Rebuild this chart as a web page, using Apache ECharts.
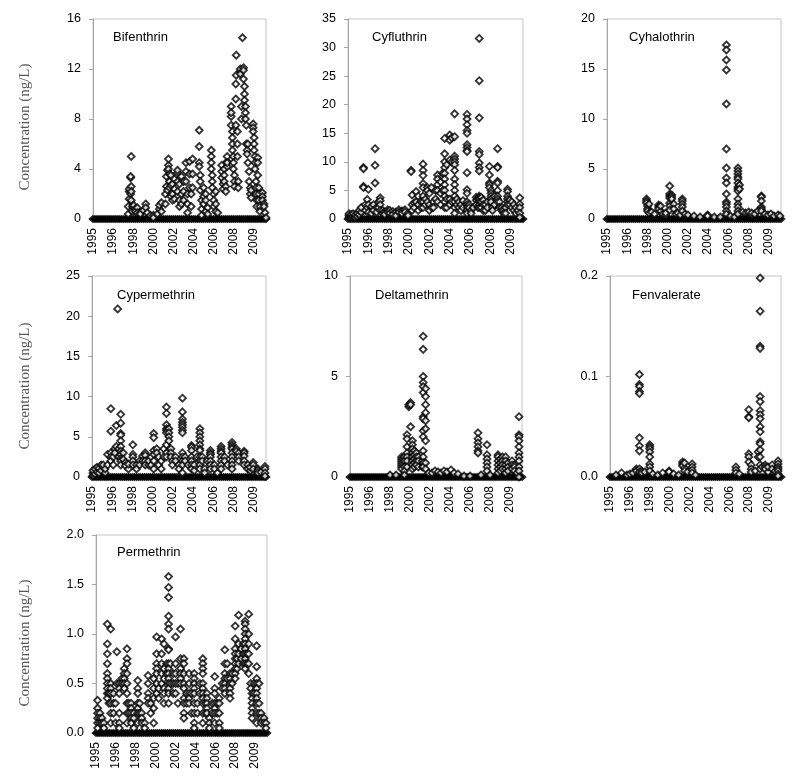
<!DOCTYPE html>
<html><head><meta charset="utf-8">
<script src="https://cdn.jsdelivr.net/npm/echarts@6/dist/echarts.min.js"></script>
<style>html,body{margin:0;padding:0;background:#fff}#c{width:800px;height:776px}</style>
</head><body><div id="c"></div>
<script>
// x positions are in axis-label units: label k of yearLabels sits at x = k
const yearLabels = ['1995','1996','1998','2000','2002','2004','2006','2008','2009'];
const panelNames = ['Bifenthrin','Cyfluthrin','Cyhalothrin','Cypermethrin','Deltamethrin','Fenvalerate','Permethrin'];
const yMax = [16, 35, 20, 25, 10, 0.2, 2.0];
const yStep = [4, 5, 5, 5, 5, 0.1, 0.5];
const yDecimals = [0, 0, 0, 0, 0, 1, 1];

// sample positions with non-detect (0 ng/L) results, shared by all panels
const nondetectX = [0,0.1,0.2,0.3,0.4,0.5,0.6,0.7,0.8,0.9,1,1.1,1.2,1.3,1.4,1.5,1.6,1.7,1.8,1.9,2,2.1,2.2,2.3,2.4,2.5,2.6,2.7,2.8,2.9,3,3.1,3.2,3.3,3.4,3.5,3.6,3.7,3.8,3.9,4,4.1,4.2,4.3,4.4,4.5,4.6,4.7,4.8,4.9,5,5.1,5.2,5.3,5.4,5.5,5.6,5.7,5.8,5.9,6,6.1,6.2,6.3,6.4,6.5,6.6,6.7,6.8,6.9,7,7.1,7.2,7.3,7.4,7.5,7.6,7.7,7.8,7.9,8,8.1,8.2,8.3,8.4,8.5,8.6];

// each entry: [x, value, value, ...] (several samples at nearly the same position)
const bifenthrin = [
[1.75,0.4,1.0],[1.8,1.6,2.2,2.4],[1.87,3.3,3.4,2.0],[1.9,5.0,2.6,2.2,1.5],[1.95,1.0,0.6],[2.02,0.9,1.1],[2.1,0.8,0.6],[2.2,0.9,0.5],[2.35,0.5,0.4],[2.5,0.7],[2.62,1.2,0.9],[2.7,0.5],[2.85,0.3],[3.0,0.3,0.1],[3.2,0.4],[3.3,0.8,1.1],[3.4,1.3,0.6],
[3.6,1.2,2.0],[3.65,2.6,3.4],[3.7,3.9,2.3],[3.75,4.3,4.8,4.0],[3.8,3.6,3.0,2.5],[3.87,1.8,2.7,3.5],[3.95,2.0,1.5,2.8],[4.05,3.2,2.4,1.6],[4.2,3.7,3.9,3.0,2.2],[4.3,1.5,1.0,2.8],[4.4,3.4,2.0,1.2],[4.5,3.0,2.2,1.5],[4.62,3.8,4.5,3.0],[4.7,2.0,0.5,1.2],[4.8,2.5,4.6,3.6],[4.88,2.0,1.0],[4.95,4.8,3.6,2.5],
[5.28,7.1,5.8,4.5,4.2],[5.33,3.5,3.0,2.3],[5.4,1.5,0.8,0.3],[5.5,2.5,1.8,1.2],[5.6,0.6,2.0,1.5],[5.7,0.9,0.4],
[5.88,5.5,5.0,4.5,4.0],[5.93,3.5,3.0,2.5],[6.0,2.0,1.5,1.0],[6.1,2.2,1.2,0.6],[6.2,0.5],
[6.4,4.3,3.8,3.3],[6.47,2.8,2.4],[6.52,4.0,3.5,3.0],[6.6,2.6,2.2],[6.67,4.6,4.2,5.0,4.5],
[6.87,7.5,8.2,9.0,8.5],[6.93,7.0,6.5,6.0,5.5],[6.98,5.0,4.5,4.0],[7.03,3.5,3.0,2.6],
[7.1,7.5,9.6,10.8],[7.12,13.1,11.5],[7.18,7.0,6.0,5.0],[7.22,3.0,2.5],
[7.32,11.8,12.0,11.6],[7.38,9.0,8.0],
[7.43,14.5],[7.48,12.1,11.9,11.2],[7.53,10.6,10.0,9.5],[7.58,9.0,8.5,8.0],[7.62,7.5,6.0],[7.66,5.5,5.2],[7.7,6.0,4.5],[7.76,3.8,3.0],[7.82,2.5,2.0],[7.86,1.7,2.3],
[7.96,7.6,7.3,7.0],[8.01,6.5,6.0,5.5],[8.05,5.0,4.5,4.0],[8.1,3.0,2.5,2.0],[8.14,1.5,1.0],[8.19,4.9,4.5,3.5],[8.24,2.5,2.0,1.5],[8.3,1.0,0.6],[8.42,2.1,1.8,1.5],[8.5,1.2,1.0],[8.55,0.5],[8.6,0.1]
];
const cyfluthrin = [
[0.05,0.3,0.6,0.9],[0.15,0.4,0.8],[0.25,0.5,0.9],[0.35,0.3,0.7],[0.45,0.5,1.0],[0.55,0.8,1.5],[0.65,1.2,2.0],
[0.76,9.0,8.8,5.7,5.5],[0.85,2.5,1.5],[0.95,3.4,2.0],[1.0,5.2,2.5,1.2],[1.15,2.2,1.0],[1.25,2.5,1.5],[1.33,12.3,9.4,6.3],[1.4,2.0,1.2],[1.5,3.0,2.0],[1.58,3.7,3.2,2.5,1.5],[1.7,1.5,1.0],[1.8,1.2,0.8],[1.95,1.6,1.2],[2.05,1.5,1.0],[2.2,1.3,0.8],[2.35,1.2,0.6],[2.5,1.6,1.2],[2.65,1.4,1.0],[2.8,1.6,1.2],[2.95,1.0,0.6],
[3.1,8.5,8.3],[3.15,4.2,2.5,1.5],[3.25,2.8,2.0],[3.35,4.8,3.0],[3.45,4.0,2.5,1.5],[3.58,3.0,2.0],[3.69,9.6,8.5,7.6,6.2,5.5,4.0,3.0,2.0],[3.8,3.5,2.5],[3.9,5.5,5.0,3.0],[4.0,4.5,2.5,1.5],[4.1,5.5,2.0],[4.2,3.0,2.0],[4.3,5.0,3.5],[4.4,7.7,7.0,6.0,5.0,3.0],[4.55,6.5,4.5,2.5],[4.65,8.0,5.0],
[4.75,14.1,11.4,10.0,9.0,8.0,7.0,6.0,5.0,4.0,3.0,2.0],[4.85,9.5,3.5,2.0],[5.0,14.7,13.8,10.3,3.5,2.5],[5.1,14.2,10.0,3.0],[5.24,18.4,14.4,11.0,10.5,10.0,9.5,8.5,7.0,6.0,5.0,4.0,3.0,2.0,1.0],[5.35,3.5,2.5],[5.45,3.0,2.0],[5.55,2.5,1.5],[5.65,3.2,2.0],
[5.85,18.3,17.5,16.5,15.5,15.0,13.0,12.5,12.0,11.8,8.1,5.1,4.5,3.0,2.5,2.0,1.5,1.0],[5.95,2.5,2.0],[6.05,1.5,1.0],[6.15,2.0],[6.3,3.8,3.3,2.5],[6.38,3.5,2.0],
[6.45,31.6,24.2,17.7,11.8,11.3,9.8,9.0,8.4,4.0,3.7,3.5,3.0,2.5,2.0],[6.55,3.8,3.0,2.0],[6.65,3.3,2.5,1.5],[6.75,2.5,1.5],[6.85,3.0,2.0],
[6.95,9.2,7.7,6.3,6.0,5.5],[7.03,5.0,4.5,4.0,3.5,3.0],[7.1,2.0,1.5],[7.2,4.0,2.5],[7.35,12.3,9.2,9.0,6.6,6.3,5.0,4.0,3.5,3.0],[7.45,3.0,2.0],[7.55,2.0,1.5],[7.65,1.5,1.0],[7.75,2.0,1.0],
[7.84,5.2,4.8,4.0,3.5,3.0,2.5],[7.95,3.3,2.5],[8.05,3.0,2.0],[8.15,2.5,1.5],[8.25,2.0,1.0],[8.35,1.5],[8.44,3.7,2.6,2.0,1.0,0.3]
];
const cyhalothrin = [
[1.95,2.0,1.8,1.6],[2.0,1.3,1.0,0.8],[2.08,0.6,1.5],[2.2,0.7],[2.35,0.5],[2.55,1.4,1.2,1.0],[2.65,0.8,1.3],[2.75,0.5],[2.9,0.4,0.6],
[3.1,3.3,2.5,2.3,2.1,1.6,1.3,0.9],[3.2,2.4,2.2,2.0],[3.3,1.5,1.0],[3.4,0.5],[3.5,0.6],[3.62,0.4],[3.72,2.0,1.8,1.5,1.2,0.8],[3.85,0.5],[4.0,0.4],[4.3,0.3],[4.6,0.2],[4.97,0.4,0.3],[5.3,0.2],[5.6,0.2],
[5.9,17.4,16.9,15.9,14.9,11.5,7.0,5.1,4.1,3.6,2.5,1.7,1.5,1.2,0.8,0.5],[6.1,0.3],[6.3,0.2],
[6.47,5.1,4.8,4.5,4.2,4.0,3.6,3.2,3.0,2.8,2.0,1.5,1.2,0.8,0.5],[6.55,3.4,3.0],[6.7,0.7],[6.85,0.6],[7.0,0.5,0.7],[7.15,0.4,0.6],[7.3,0.5],[7.45,0.8],
[7.63,2.3,2.2,1.8,1.2,1.0,0.8],[7.8,0.5],[7.95,0.4],[8.1,0.5],[8.25,0.3],[8.45,0.4],[8.55,0.3]
];
const cypermethrin = [
[0.05,0.2,0.5,0.8],[0.15,0.4,1.0],[0.25,0.6,1.2],[0.35,0.5,1.1],[0.45,0.8,1.5],[0.55,1.2,1.5],[0.65,0.5,1.0],
[0.77,2.8,1.5],[0.93,8.5,5.7,3.0,2.5,2.0],[1.05,2.5,1.5],[1.13,3.5,3.0],[1.2,6.4,3.8],[1.27,20.9],[1.32,3.5,2.5],[1.42,7.8,6.7,5.4,5.2,4.5,3.8,3.2,2.8,2.3,2.0,1.5],[1.55,3.0,2.2],[1.65,1.8,1.4],[1.8,1.0,1.6],
[2.02,4.0,2.8,2.5,2.0,1.5],[2.2,1.5,1.0],[2.35,2.0,1.5],[2.5,2.6,2.0],[2.63,3.0,2.7,2.0,1.5],[2.8,1.5,2.0],[2.92,2.5,1.5],
[3.05,5.4,4.9,3.3,2.8,2.0,1.0],[3.2,3.5,3.0],[3.3,2.5,1.5],[3.42,1.0,2.0],[3.55,3.5,2.5],[3.68,8.7,7.9,6.5,6.0,5.8,5.5,4.0,3.0,2.5],[3.8,6.0,5.5,5.0,4.5],[3.9,3.5,3.0,2.5],[3.97,2.0,1.5],[4.13,2.5,2.0],[4.3,1.5,1.0],
[4.47,9.8,8.1,7.2,6.8,6.5,6.2,5.8,5.5,3.0,2.5,2.0,1.5,0.5],[4.6,2.5,2.0],[4.75,1.5],[4.92,3.9,3.7,3.3,2.5,2.0,1.5,1.0],[5.05,1.5,0.8],[5.18,2.5],
[5.33,6.0,5.5,5.0,4.5,4.0,3.5,3.3,2.5,2.0,1.5,1.0],[5.45,2.5,2.0],[5.57,1.0,0.5],[5.7,2.0],
[5.85,3.3,3.0,2.8,2.5,2.0,1.5,1.0],[6.05,1.5,1.0],[6.2,0.5],
[6.38,3.8,3.5,3.2,3.0,2.5,2.0,1.5,1.0],[6.55,2.5,2.0],[6.7,1.5],
[6.92,4.3,4.0,3.7,3.5,3.0,2.5,2.0,1.5,1.0],[7.13,3.5,3.2],[7.25,3.0,2.5,2.0],
[7.52,3.2,3.0,2.6,2.0,1.5],[7.7,1.5,1.0],[7.82,0.8,1.2],[7.97,1.8,1.5,1.0],[8.2,1.0,0.8,0.5],[8.35,0.6],[8.55,1.3,1.0,0.5,0.1]
];
const deltamethrin = [
[2.0,0.1],[2.3,0.1],
[2.58,1.0,0.9,0.8,0.7,0.6,0.5,0.4],[2.72,1.0,0.8,0.5,0.3,0.1],
[2.85,2.1,1.9,1.5,1.2,1.0,0.8,0.5],[2.94,3.5,3.6],[3.03,3.7,3.6,2.5],
[3.12,1.8,1.6,1.4,1.2,1.0,0.8,0.6,0.4],[3.22,1.3,1.1,0.9,0.7,0.5],[3.32,1.2,1.0,0.8,0.6],[3.42,1.0,0.8,0.5],
[3.62,0.8,0.5],[3.66,7.0,6.35,5.0,4.7,4.5,4.2,3.0,2.9,2.3,2.0,1.3,1.0,0.7,0.5],[3.78,4.4,4.0,3.6,3.2,2.8,2.4,1.8,0.7,0.4],[3.93,0.2],
[4.1,0.2],[4.25,0.3],[4.4,0.25],[4.55,0.2],[4.7,0.3],[4.85,0.25],[5.05,0.35],[5.2,0.2],[5.4,0.15],[5.7,0.05],[6.0,0.05],
[6.4,2.2,1.9,1.7,1.5,1.3,1.2],[6.55,0.1],
[6.85,1.6,1.1,0.9,0.7,0.5,0.3],[7.0,0.1],
[7.4,1.1,1.0,0.8,0.6,0.4,0.2],[7.52,0.9,0.7,0.5,0.3],[7.62,1.0,0.8,0.6,0.4],[7.78,1.0,0.8,0.6,0.4,0.2],[7.9,0.7,0.5,0.3],
[8.1,0.8,0.6,0.4],[8.22,0.6,0.5,0.3],[8.35,0.2],
[8.45,3.0,2.1,2.0,1.8,1.5,1.2,1.0,0.8,0.5,0.3,0.0]
];
const fenvalerate = [
[0.3,0.002],[0.58,0.004],[0.85,0.002],[1.0,0.003],[1.15,0.004],[1.32,0.008,0.006],
[1.48,0.102,0.092,0.090,0.085,0.083,0.039,0.031,0.026,0.008,0.005],[1.6,0.006,0.004],[1.75,0.005],
[2.0,0.032,0.030,0.028,0.025,0.020,0.013,0.010,0.006],[2.15,0.003],[2.4,0.002],[2.65,0.004],[2.97,0.006,0.005],[3.2,0.003],[3.45,0.002],
[3.65,0.015,0.013,0.011],[3.75,0.009,0.006,0.014],[3.9,0.005],[4.13,0.013,0.010,0.007,0.004],[4.3,0.002],
[6.33,0.010,0.007,0.004],[6.5,0.003],[6.98,0.067,0.060,0.059,0.023,0.020,0.015],[7.1,0.012,0.008,0.005],[7.3,0.006],
[7.45,0.025,0.020],[7.55,0.198,0.165,0.130,0.128,0.080,0.075,0.066,0.062,0.058,0.050,0.045,0.035,0.033,0.027,0.020,0.012,0.008],[7.65,0.010],
[7.8,0.012,0.010,0.008],[7.95,0.005,0.010],[8.15,0.012,0.008],[8.3,0.006],[8.45,0.016,0.013,0.010,0.008,0.006,0.003,0.001]
];
const permethrin = [
[0.08,0.33,0.25,0.2,0.15,0.1,0.05],[0.2,0.2,0.15,0.1],[0.3,0.15,0.1],[0.4,0.1,0.05],
[0.57,1.1,0.9,0.8,0.7,0.6,0.55,0.5,0.45,0.4,0.35],[0.65,0.4,0.3],[0.74,1.05,0.5,0.45,0.4,0.3,0.2,0.1],
[0.88,0.4,0.3,0.2],[0.98,0.3,0.1],[1.05,0.82,0.5],[1.17,0.5,0.45,0.4,0.2,0.1,0.05],
[1.3,0.55,0.5],[1.42,0.65,0.6,0.55,0.5,0.45],[1.56,0.85,0.75,0.7,0.6,0.5,0.4,0.3,0.2,0.1],[1.65,0.3,0.2],
[1.77,0.3,0.25,0.2,0.15,0.1],[1.9,0.2,0.15,0.05],[2.1,0.53,0.45,0.4,0.3,0.25,0.2,0.1],[2.2,0.3,0.2],
[2.3,0.2,0.15,0.1],[2.45,0.1,0.05],[2.62,0.58,0.5,0.4,0.35,0.3],[2.75,0.3,0.2],[2.9,0.55,0.45,0.35,0.25,0.1],
[3.05,0.97,0.8,0.7,0.65,0.6,0.5,0.4],[3.15,0.45,0.35],[3.3,0.95,0.8,0.7,0.6,0.5],[3.42,0.9,0.65,0.55,0.45,0.4,0.3],[3.55,0.7,0.6],
[3.65,1.58,1.47,1.37,1.18,1.1,1.05,0.85,0.84,0.7,0.65,0.6,0.55,0.5,0.45,0.4,0.3],[3.75,0.7,0.5],
[3.88,0.6,0.5,0.4],[4.0,0.97,0.7,0.6,0.5,0.4],[4.12,0.5,0.3],
[4.25,1.05,0.75,0.65,0.6,0.55,0.5],[4.42,0.75,0.7,0.6,0.5,0.45,0.35,0.3,0.2,0.15],[4.55,0.4,0.3],
[4.68,0.6,0.5,0.4,0.35,0.3],[4.8,0.4,0.2],[4.94,0.6,0.55,0.5,0.45,0.4,0.3,0.2,0.1,0.05],[5.1,0.3,0.2],[5.22,0.5,0.4],
[5.37,0.75,0.7,0.65,0.6,0.5,0.45,0.4,0.35,0.3,0.2,0.1],[5.5,0.3,0.2],
[5.58,0.4,0.35,0.3,0.25,0.2],[5.7,0.15,0.1,0.05],[5.85,0.3,0.2],
[5.97,0.57,0.45,0.4,0.3,0.25,0.2,0.1],[6.1,0.3,0.2],[6.2,0.35,0.3,0.2,0.1,0.05],
[6.35,0.5,0.45],[6.48,0.84,0.7,0.6,0.55,0.5,0.45,0.4],[6.6,0.7,0.55],[6.74,0.6,0.55,0.5,0.45,0.4,0.35],[6.85,0.6,0.5],
[7.0,1.08,0.95,0.85,0.8,0.75,0.7,0.65,0.6,0.55],[7.1,0.75,0.65],[7.17,1.19,0.9,0.8,0.7],[7.3,0.85,0.75],[7.4,0.9,0.8,0.7],
[7.5,1.13,1.1,1.05,1.0,0.95,0.9,0.85,0.8,0.75,0.7,0.65],[7.6,0.8,0.7],[7.68,1.2,1.0,0.9,0.8,0.7,0.6],
[7.78,0.5,0.45],[7.85,0.4,0.35,0.3,0.25,0.2,0.15],[7.95,0.5,0.4],
[8.08,0.88,0.67,0.55,0.5,0.45,0.4,0.35,0.3,0.2,0.1],[8.2,0.5,0.3,0.2],[8.3,0.2,0.15,0.1],[8.45,0.15,0.1],[8.55,0.1,0.05],[8.63,0.18,0.15,0.1,0.05,0.0]
];

const panelData = [bifenthrin, cyfluthrin, cyhalothrin, cypermethrin, deltamethrin, fenvalerate, permethrin];

// layout (pixels)
const layout = [
  {left:93, top:19, width:173, height:200},
  {left:348, top:19, width:175, height:200},
  {left:607, top:19, width:174, height:200},
  {left:92, top:276, width:174, height:201},
  {left:350, top:276, width:172, height:201},
  {left:610, top:276, width:171, height:201},
  {left:96, top:535, width:171, height:198}
];
const titlePos = [[113,37],[372,37],[629,37],[117,295],[375,295],[632,295],[117,552]];
const yNamePos = [[25,127],[25,386],[25,643]];

function expand(clusters){
  const out=[];
  clusters.forEach(c=>{ for(let i=1;i<c.length;i++) out.push([c[0], c[i]]); });
  return out;
}
const DIAMOND = 'path://M5,0L10,5L5,10L0,5Z';
const font = 'Liberation Sans';

const grids=[], xAxes=[], yAxes=[], series=[], graphics=[];
panelNames.forEach((name,i)=>{
  const L = layout[i];
  grids.push({left:L.left, top:L.top, width:L.width, height:L.height, show:true, borderColor:'#c4c4c4', borderWidth:1, backgroundColor:'rgba(0,0,0,0)', containLabel:false});
  xAxes.push({type:'value', gridIndex:i, min:0, max:8.6, interval:1,
    axisLine:{show:true, lineStyle:{color:'#a6a6a6'}}, axisTick:{show:false}, splitLine:{show:false},
    axisLabel:{rotate:90, margin:9, fontSize:12, fontFamily:font, color:'#000', showMaxLabel:false, showMinLabel:true,
      formatter:v=>{const k=Math.round(v); return (Math.abs(v-k)<1e-6 && yearLabels[k])?yearLabels[k]:'';}}});
  yAxes.push({type:'value', gridIndex:i, min:0, max:yMax[i], interval:yStep[i],
    axisLine:{show:true, lineStyle:{color:'#a6a6a6'}}, axisTick:{show:true, length:4, lineStyle:{color:'#a6a6a6'}},
    splitLine:{show:false},
    axisLabel:{fontSize:12.5, fontFamily:font, color:'#000', margin:12, formatter:v=>Number(v).toFixed(yDecimals[i])}});
  series.push({type:'scatter', xAxisIndex:i, yAxisIndex:i, symbol:DIAMOND, symbolSize:[8,7],
    data: nondetectX.map(x=>[x,0]), itemStyle:{color:'#000', borderColor:'#000', borderWidth:1}, z:2, silent:true});
  series.push({type:'scatter', xAxisIndex:i, yAxisIndex:i, symbol:DIAMOND, symbolSize:[7,7],
    data: expand(panelData[i]), itemStyle:{color:'#fff', borderColor:'#000', borderWidth:1.8}, z:3, silent:true});
  graphics.push({type:'text', x:titlePos[i][0], y:titlePos[i][1], style:{text:name, fontSize:13, fontFamily:font, fill:'#000', align:'left', verticalAlign:'middle'}});
});
yNamePos.forEach(p=>{
  graphics.push({type:'text', x:p[0], y:p[1], rotation:Math.PI/2, style:{text:'Concentration (ng/L)', fontSize:15, fontFamily:'Liberation Serif', fill:'#555', align:'center', verticalAlign:'middle'}});
});

const chart = echarts.init(document.getElementById('c'), null, {renderer:'canvas'});
chart.setOption({animation:false, backgroundColor:'#fff', grid:grids, xAxis:xAxes, yAxis:yAxes, series:series, graphic:graphics});
</script></body></html>
